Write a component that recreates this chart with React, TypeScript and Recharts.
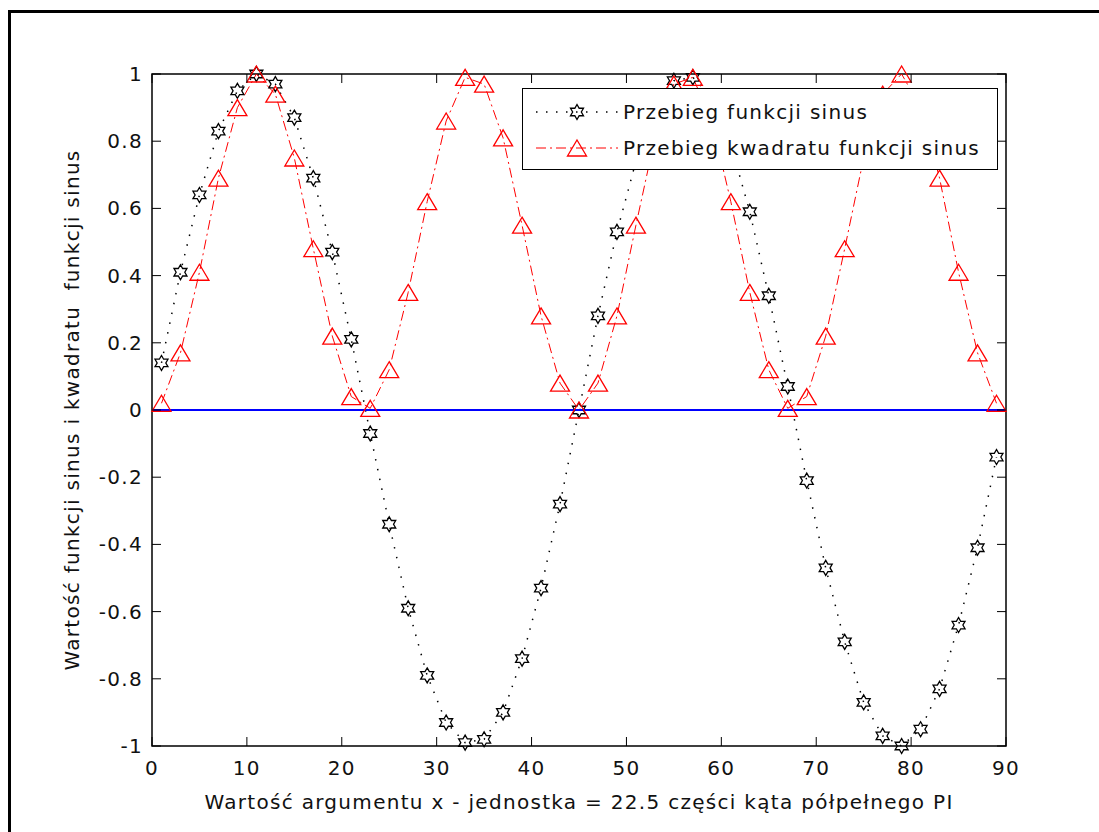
import React from 'react';
import { LineChart, Line, XAxis, YAxis, Legend, ReferenceLine, ReferenceArea } from 'recharts';

// x = 1, 3, 5 ... 89
const xValues = [
  1, 3, 5, 7, 9, 11, 13, 15, 17, 19, 21, 23, 25, 27, 29, 31, 33, 35, 37, 39, 41, 43, 45,
  47, 49, 51, 53, 55, 57, 59, 61, 63, 65, 67, 69, 71, 73, 75, 77, 79, 81, 83, 85, 87, 89,
];

// (gwiazdki)
const sinusValues = [
  0.14, 0.41, 0.64, 0.83, 0.95, 1.0, 0.97, 0.87, 0.69, 0.47, 0.21, -0.07, -0.34, -0.59, -0.79,
  -0.93, -0.99, -0.98, -0.9, -0.74, -0.53, -0.28, 0, 0.28, 0.53, 0.74, 0.9, 0.98, 0.99, 0.93,
  0.79, 0.59, 0.34, 0.07, -0.21, -0.47, -0.69, -0.87, -0.97, -1.0, -0.95, -0.83, -0.64, -0.41, -0.14,
];

// (trojkaty)
const sinusSquaredValues = [
  0.02, 0.17, 0.41, 0.69, 0.9, 1.0, 0.94, 0.75, 0.48, 0.22, 0.04, 0.005, 0.12, 0.35, 0.62,
  0.86, 0.99, 0.97, 0.81, 0.55, 0.28, 0.08, 0, 0.08, 0.28, 0.55, 0.81, 0.97, 0.99, 0.86,
  0.62, 0.35, 0.12, 0.005, 0.04, 0.22, 0.48, 0.75, 0.94, 1.0, 0.9, 0.69, 0.41, 0.17, 0.02,
];

const xTicks = [0, 10, 20, 30, 40, 50, 60, 70, 80, 90];
const yTicks = [-1, -0.8, -0.6, -0.4, -0.2, 0, 0.2, 0.4, 0.6, 0.8, 1];

const seriesNames = ['Przebieg funkcji sinus', 'Przebieg kwadratu funkcji sinus'];
const xLabel = 'Wartość argumentu x - jednostka = 22.5 części kąta półpełnego PI';
const yLabel = 'Wartość funkcji sinus i kwadratu  funkcji sinus';

const chartData = xValues.map((x, i) => ({
  x,
  sinus: sinusValues[i],
  kwadrat: sinusSquaredValues[i],
}));

// uklad strony
const W = 1099;
const H = 832;
const PLOT_LEFT = 152;
const PLOT_RIGHT = 1006;
const PLOT_TOP = 74;
const PLOT_BOTTOM = 746;
const PLOT_W = PLOT_RIGHT - PLOT_LEFT;
const PLOT_H = PLOT_BOTTOM - PLOT_TOP;
const Y_AXIS_W = 60;
const X_AXIS_H = 40;
const TICK_LEN = 9;

const FONT = "'DejaVu Sans', sans-serif";
const textStyle: React.CSSProperties = {
  fontFamily: FONT,
  fontSize: 20,
  letterSpacing: 1.3,
  fill: '#111',
};

const seriesStyles: Record<string, { stroke: string; dash: string; width: number; marker: 'hex' | 'tri' }> = {
  sinus: { stroke: '#000000', dash: '1.5 8.5', width: 1.5, marker: 'hex' },
  kwadrat: { stroke: '#ff0000', dash: '10 4 2 4', width: 1, marker: 'tri' },
};

const Hexagram = ({ cx, cy }: { cx: number; cy: number }) => {
  const R = 7.5;
  const r = R / Math.sqrt(3);
  const pts: string[] = [];
  for (let k = 0; k < 12; k++) {
    const a = ((-90 + k * 30) * Math.PI) / 180;
    const rad = k % 2 === 0 ? R : r;
    pts.push(`${cx + rad * Math.cos(a)},${cy + rad * Math.sin(a)}`);
  }
  return <polygon points={pts.join(' ')} fill="none" stroke="#000" strokeWidth={1.3} />;
};

const Triangle = ({ cx, cy }: { cx: number; cy: number }) => (
  <polygon
    points={`${cx},${cy - 8} ${cx + 9.5},${cy + 8} ${cx - 9.5},${cy + 8}`}
    fill="none"
    stroke="#ff0000"
    strokeWidth={1.3}
  />
);

const Marker = ({ kind, cx, cy }: { kind: 'hex' | 'tri'; cx: number; cy: number }) =>
  kind === 'hex' ? <Hexagram cx={cx} cy={cy} /> : <Triangle cx={cx} cy={cy} />;

const fmtY = (v: number) => (v === 0 ? '0' : String(+v.toFixed(1)));

// ticki do wewnatrz, na dole i na gorze
const XTick = (props: any) => {
  const { x, y, payload } = props;
  return (
    <g>
      <line x1={x} x2={x} y1={y} y2={y - TICK_LEN} stroke="#000" />
      <line x1={x} x2={x} y1={y - PLOT_H} y2={y - PLOT_H + TICK_LEN} stroke="#000" />
      <text x={x} y={y + 29} textAnchor="middle" style={textStyle}>
        {payload.value}
      </text>
    </g>
  );
};

// ticki do wewnatrz, z lewej i z prawej
const YTick = (props: any) => {
  const { x, y, payload } = props;
  return (
    <g>
      <line x1={x} x2={x + TICK_LEN} y1={y} y2={y} stroke="#000" />
      <line x1={x + PLOT_W} x2={x + PLOT_W - TICK_LEN} y1={y} y2={y} stroke="#000" />
      <text x={x - 9} y={y + 7} textAnchor="end" style={textStyle}>
        {fmtY(payload.value)}
      </text>
    </g>
  );
};

const XAxisLabel = (props: any) => {
  const vb = props.viewBox || { x: PLOT_LEFT, y: PLOT_BOTTOM, width: PLOT_W };
  return (
    <text x={vb.x + vb.width / 2} y={vb.y + 63} textAnchor="middle" style={textStyle}>
      {xLabel}
    </text>
  );
};

const YAxisLabel = (props: any) => {
  const vb = props.viewBox || { x: PLOT_LEFT - Y_AXIS_W, y: PLOT_TOP, width: Y_AXIS_W, height: PLOT_H };
  const cx = vb.x + vb.width - 80;
  const cy = vb.y + vb.height / 2;
  return (
    <text
      x={cx}
      y={cy}
      transform={`rotate(-90 ${cx} ${cy})`}
      textAnchor="middle"
      dominantBaseline="central"
      style={{ ...textStyle, whiteSpace: 'pre' }}
    >
      {yLabel}
    </text>
  );
};

const renderLegend = (props: any) => {
  const payload = (props.payload || []).filter((p: any) => seriesStyles[p.dataKey]);
  const items = payload.length
    ? payload.map((p: any) => ({ key: p.dataKey as string, name: p.value as string }))
    : [
        { key: 'sinus', name: seriesNames[0] },
        { key: 'kwadrat', name: seriesNames[1] },
      ];
  return (
    <div
      style={{
        width: 476,
        height: 82,
        boxSizing: 'border-box',
        border: '1.5px solid #000',
        background: '#fff',
        paddingTop: 4.5,
      }}
    >
      {items.map((it: any) => {
        const s = seriesStyles[it.key];
        return (
          <div key={it.key} style={{ display: 'flex', alignItems: 'center', height: 36 }}>
            <svg width={100} height={36} style={{ display: 'block' }}>
              <line x1={13} x2={95} y1={18} y2={18} stroke={s.stroke} strokeWidth={s.width} strokeDasharray={s.dash} />
              <Marker kind={s.marker} cx={54} cy={18} />
            </svg>
            <span
              style={{
                fontFamily: FONT,
                fontSize: 20,
                letterSpacing: 1.3,
                color: '#111',
                whiteSpace: 'nowrap',
              }}
            >
              {it.name}
            </span>
          </div>
        );
      })}
    </div>
  );
};

export default function App() {
  return (
    <div
      style={{
        position: 'absolute',
        left: 0,
        top: 0,
        width: W,
        height: H,
        overflow: 'hidden',
        background: '#fff',
      }}
    >
      {/* ramka figury */}
      <div
        style={{
          position: 'absolute',
          left: 8,
          top: 10,
          width: W,
          height: H,
          borderTop: '3px solid #000',
          borderLeft: '3px solid #000',
        }}
      />
      <div style={{ position: 'absolute', left: 0, top: 0 }}>
        <LineChart
          width={W}
          height={H}
          data={chartData}
          margin={{
            top: PLOT_TOP,
            right: W - PLOT_RIGHT,
            left: PLOT_LEFT - Y_AXIS_W,
            bottom: H - PLOT_BOTTOM - X_AXIS_H,
          }}
        >
          <XAxis
            dataKey="x"
            type="number"
            domain={[0, 90]}
            ticks={xTicks}
            interval={0}
            height={X_AXIS_H}
            axisLine={false}
            tickLine={false}
            tickSize={0}
            tickMargin={0}
            tick={<XTick />}
            label={XAxisLabel}
          />
          <YAxis
            type="number"
            domain={[-1, 1]}
            ticks={yTicks}
            interval={0}
            width={Y_AXIS_W}
            axisLine={false}
            tickLine={false}
            tickSize={0}
            tickMargin={0}
            tick={<YTick />}
            label={YAxisLabel}
          />
          <ReferenceArea
            x1={0}
            x2={90}
            y1={-1}
            y2={1}
            fill="none"
            fillOpacity={0}
            stroke="#000"
            strokeWidth={1.5}
            ifOverflow="visible"
          />
          <Line
            type="linear"
            dataKey="sinus"
            name={seriesNames[0]}
            stroke={seriesStyles.sinus.stroke}
            strokeWidth={seriesStyles.sinus.width}
            strokeDasharray={seriesStyles.sinus.dash}
            dot={(p: any) => <Hexagram key={`h-${p.index}`} cx={p.cx} cy={p.cy} />}
            activeDot={false}
            isAnimationActive={false}
          />
          <Line
            type="linear"
            dataKey="kwadrat"
            name={seriesNames[1]}
            stroke={seriesStyles.kwadrat.stroke}
            strokeWidth={seriesStyles.kwadrat.width}
            strokeDasharray={seriesStyles.kwadrat.dash}
            dot={(p: any) => <Triangle key={`t-${p.index}`} cx={p.cx} cy={p.cy} />}
            activeDot={false}
            isAnimationActive={false}
          />
          <ReferenceLine y={0} stroke="#0000ff" strokeWidth={2} ifOverflow="visible" />
          <Legend
            content={renderLegend}
            layout="vertical"
            verticalAlign="middle"
            align="center"
            wrapperStyle={{ left: 522, top: 88, width: 476 }}
          />
        </LineChart>
      </div>
    </div>
  );
}
